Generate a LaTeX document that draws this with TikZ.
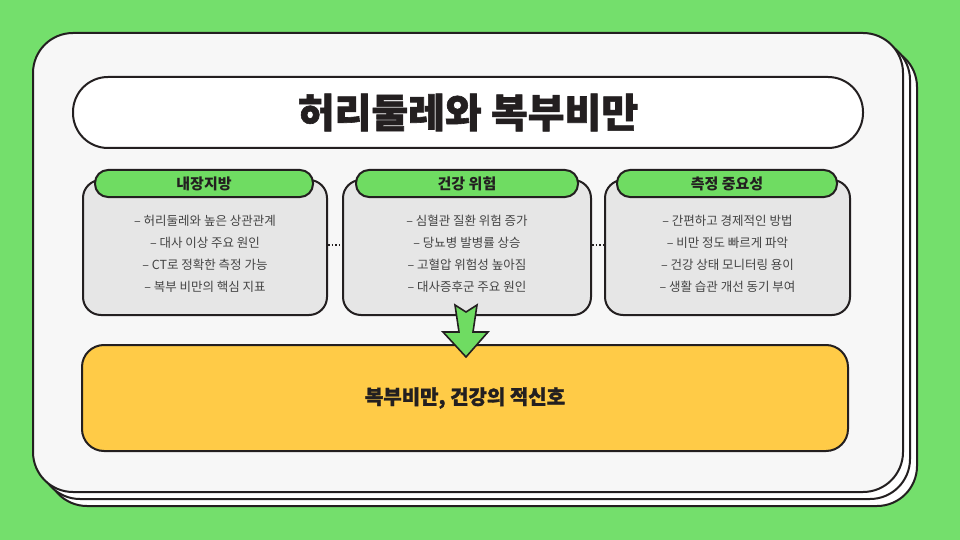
\documentclass[tikz,border=0pt]{standalone}
\usepackage{fontspec}
\setmainfont{Noto Sans CJK KR}
\newfontfamily\heavyfont{Noto Sans CJK KR}[BoldFeatures={FakeBold=1.5}]
\definecolor{bggreen}{HTML}{74DF6C}
\definecolor{hdgreen}{HTML}{6FDC62}
\definecolor{cardfill}{HTML}{F7F7F7}
\definecolor{panelfill}{HTML}{E6E6E6}
\definecolor{yel}{HTML}{FFCB47}
\definecolor{ink}{HTML}{231F20}
\definecolor{bodyink}{HTML}{444444}
\begin{document}
\begin{tikzpicture}[x=1pt,y=-1pt,
  cardbox/.style={draw=ink,line width=2pt,rounded corners=40pt,inner sep=0pt},
  titlebox/.style={draw=ink,line width=2pt,fill=white,rounded corners=35pt,minimum width=790pt,minimum height=71pt,inner sep=0pt,font=\heavyfont\bfseries\fontsize{40}{46}\selectfont,text=ink},
  panelbox/.style={draw=ink,line width=2pt,fill=panelfill,rounded corners=18pt,minimum height=135pt,inner sep=0pt},
  headbox/.style={draw=ink,line width=2pt,fill=hdgreen,rounded corners=13pt,minimum height=27pt,inner sep=0pt,font=\bfseries\fontsize{15}{18}\selectfont,text=ink},
  bodytext/.style={align=center,font=\fontsize{12.5}{22}\selectfont,text=bodyink,inner sep=0pt},
  yelbox/.style={draw=ink,line width=2pt,fill=yel,rounded corners=22pt,minimum width=766pt,minimum height=106pt,inner sep=0pt,font=\heavyfont\bfseries\fontsize{20}{24}\selectfont,text=ink},
  dotlink/.style={draw=ink,line width=1.6pt,dotted}
]
\fill[bggreen] (0,0) rectangle (960,540);
\useasboundingbox (0,0) rectangle (960,540);
% stacked card layers
\node[cardbox,fill=white,minimum width=870pt,minimum height=459pt] (card3) at (482,276.5) {};
\node[cardbox,fill=white,minimum width=870pt,minimum height=459pt] (card2) at (475,269.5) {};
\node[cardbox,fill=cardfill,minimum width=870pt,minimum height=459pt] (card1) at (468,262.5) {};
% title
\node[titlebox] (title) at (468,112.5) {허리둘레와 복부비만};
% panels
\node[panelbox,minimum width=244pt] (p1) at (205,247.5) {};
\node[panelbox,minimum width=248pt] (p2) at (467,247.5) {};
\node[panelbox,minimum width=245pt] (p3) at (727.5,247.5) {};
\node[headbox,minimum width=218pt] (h1) at (204,183.5) {내장지방};
\node[headbox,minimum width=222pt] (h2) at (467,183.5) {건강 위험};
\node[headbox,minimum width=220pt] (h3) at (727,183.5) {측정 중요성};
\node[bodytext] (t1) at (205,253.5) {– 허리둘레와 높은 상관관계\\– 대사 이상 주요 원인\\– CT로 정확한 측정 가능\\– 복부 비만의 핵심 지표};
\node[bodytext] (t2) at (467,253.5) {– 심혈관 질환 위험 증가\\– 당뇨병 발병률 상승\\– 고혈압 위험성 높아짐\\– 대사증후군 주요 원인};
\node[bodytext] (t3) at (727.5,253.5) {– 간편하고 경제적인 방법\\– 비만 정도 빠르게 파악\\– 건강 상태 모니터링 용이\\– 생활 습관 개선 동기 부여};
% dotted links
\draw[dotlink] (p1.east |- 0,245) -- (p2.west |- 0,245);
\draw[dotlink] (p2.east |- 0,245) -- (p3.west |- 0,245);
% conclusion
\node[yelbox] (concl) at (465,398) {복부비만, 건강의 적신호};
% arrow
\draw[draw=ink,line width=1.6pt,fill=hdgreen,line join=miter]
  (455,305) -- (466,312) -- (477,305) -- (473,332) -- (488,332) -- (466,357)
  -- (443,332) -- (459,332) -- cycle;
\end{tikzpicture}
\end{document}
